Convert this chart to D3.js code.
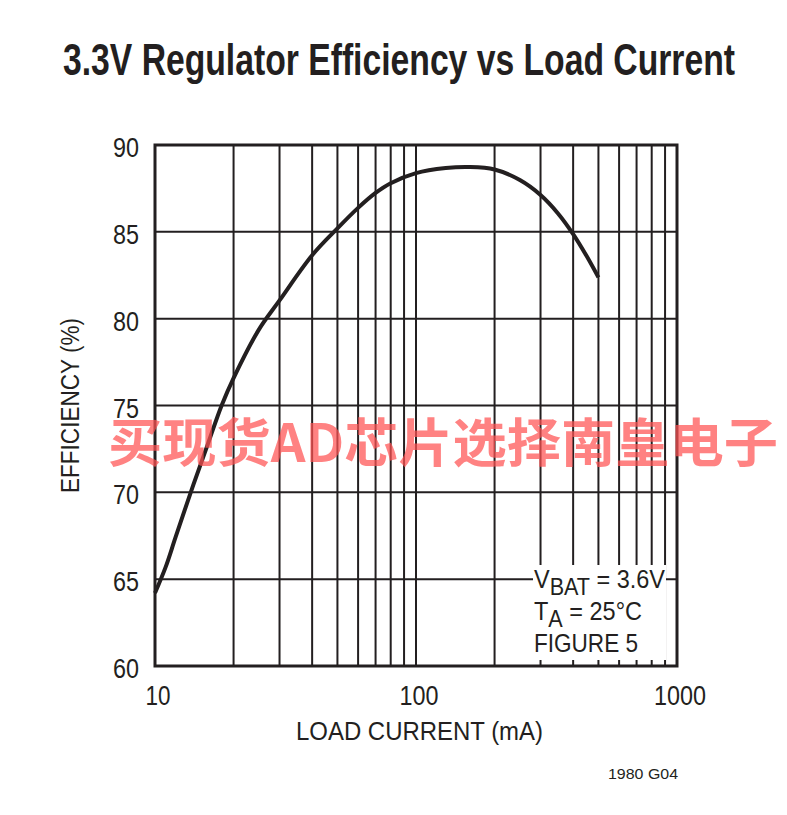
<!DOCTYPE html>
<html>
<head>
<meta charset="utf-8">
<script src="https://cdn.jsdelivr.net/npm/d3@7"></script>
<style>
  body { margin: 0; background: #fff; }
  svg { display: block; }
  text { font-family: "Liberation Sans", Arial, sans-serif; fill: #231f20; }
</style>
</head>
<body>
<svg id="chart" width="787" height="815"></svg>
<script>
// ---- data ----
const loadCurrent = [10, 11, 12, 14, 16, 18, 20, 25, 30, 40, 50, 60, 70, 80, 100, 130, 160, 200, 250, 300, 350, 400, 450, 500];
const efficiency  = [64.2, 65.72, 67.43, 70.4, 72.85, 75.0, 76.58, 79.37, 81.05, 83.65, 85.2, 86.38, 87.24, 87.8, 88.38, 88.67, 88.73, 88.59, 87.98, 87.12, 86.06, 84.87, 83.62, 82.38];
const yTicks = [60, 65, 70, 75, 80, 85, 90];
const xTickLabels = [10, 100, 1000];
const legendLines = ["V_BAT = 3.6V", "T_A = 25°C", "FIGURE 5"];
const titleText = "3.3V Regulator Efficiency vs Load Current";
const watermark = "买现货AD芯片选择南皇电子";

const svg = d3.select("#chart");
const pLeft = 155, pRight = 677, pTop = 145, pBottom = 666;

const x = d3.scaleLog().domain([10, 1000]).range([pLeft, pRight]);
const y = d3.scaleLinear().domain([60, 90]).range([pBottom, pTop]);

// title
svg.append("text")
  .attr("x", 63).attr("y", 75)
  .attr("textLength", 672).attr("lengthAdjust", "spacingAndGlyphs")
  .style("font-size", "45px").style("font-weight", "bold")
  .text(titleText);

const g = svg.append("g");

// vertical grid lines (log minor + major)
const vLines = [];
for (let d = 10; d < 1000; d *= 10) for (let k = 2; k <= 9; k++) vLines.push(d * k);
vLines.push(100);
g.selectAll("line.v").data(vLines).enter().append("line")
  .attr("x1", d => x(d)).attr("x2", d => x(d))
  .attr("y1", pTop).attr("y2", pBottom)
  .attr("stroke", "#231f20").attr("stroke-width", 2);

// horizontal grid lines
g.selectAll("line.h").data(yTicks.slice(1, -1)).enter().append("line")
  .attr("x1", pLeft).attr("x2", pRight)
  .attr("y1", d => y(d)).attr("y2", d => y(d))
  .attr("stroke", "#231f20").attr("stroke-width", 2);

// legend box (white background interrupting grid)
g.append("rect").attr("x", 533).attr("y", 565).attr("width", 133).attr("height", 95).attr("fill", "#fff");

// frame
g.append("rect").attr("x", pLeft).attr("y", pTop).attr("width", pRight - pLeft).attr("height", pBottom - pTop)
  .attr("fill", "none").attr("stroke", "#231f20").attr("stroke-width", 3);

// curve
const line = d3.line().x((d, i) => x(loadCurrent[i])).y(d => y(d)).curve(d3.curveCatmullRom.alpha(0.5));
g.append("path").datum(efficiency).attr("d", line)
  .attr("fill", "none").attr("stroke", "#231f20").attr("stroke-width", 4).attr("stroke-linecap", "butt");

// y tick labels
svg.selectAll("text.yt").data(yTicks).enter().append("text")
  .attr("x", 139).attr("y", d => y(d) + 12)
  .attr("text-anchor", "end")
  .attr("textLength", 26).attr("lengthAdjust", "spacingAndGlyphs")
  .style("font-size", "27px")
  .text(d => d);

// x tick labels
const xLabW = { 10: 25, 100: 39, 1000: 52 };
svg.selectAll("text.xt").data(xTickLabels).enter().append("text")
  .attr("x", d => x(d) + 3 - xLabW[d] / 2).attr("y", 705)
  .attr("textLength", d => xLabW[d]).attr("lengthAdjust", "spacingAndGlyphs")
  .style("font-size", "27px")
  .text(d => d);

// axis titles
svg.append("text").attr("x", 296).attr("y", 740)
  .attr("textLength", 247).attr("lengthAdjust", "spacingAndGlyphs")
  .style("font-size", "25px").text("LOAD CURRENT (mA)");
svg.append("text").attr("transform", "translate(79,493) rotate(-90)")
  .attr("textLength", 175).attr("lengthAdjust", "spacingAndGlyphs")
  .style("font-size", "25px").text("EFFICIENCY (%)");

// legend text
const legW = [131, 108, 104];
legendLines.forEach((s, i) => {
  const t = svg.append("text").attr("x", 534).attr("y", 588 + i * 31.8)
    .attr("textLength", legW[i]).attr("lengthAdjust", "spacingAndGlyphs")
    .style("font-size", "25px");
  const parts = s.split("_");
  if (parts.length > 1) {
    const main = parts[0];
    const rest = parts[1];
    const sp = rest.indexOf(" ");
    t.append("tspan").text(main);
    t.append("tspan").attr("dy", 7).style("font-size", "23px").text(rest.slice(0, sp));
    t.append("tspan").attr("dy", -7).text(rest.slice(sp));
  } else {
    t.text(s);
  }
});

// footer code
svg.append("text").attr("x", 608).attr("y", 779)
  .attr("textLength", 70).attr("lengthAdjust", "spacingAndGlyphs")
  .style("font-size", "15px").text("1980 G04");

// watermark
svg.append("text").attr("x", 108).attr("y", 462)
  .attr("textLength", 670).attr("lengthAdjust", "spacingAndGlyphs")
  .style("font-family", "'Noto Sans CJK SC', sans-serif").style("font-weight", "bold")
  .style("font-size", "52px").style("fill", "#ff5252").style("fill-opacity", 0.72)
  .text(watermark);
</script>
</body>
</html>
